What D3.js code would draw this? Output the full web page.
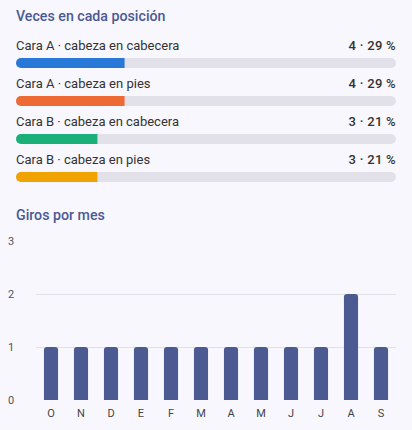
<!DOCTYPE html>
<html><head><meta charset="utf-8">
<script src="https://cdn.jsdelivr.net/npm/d3@7"></script>
<style>
html,body{margin:0;padding:0;background:#f8f7fd;}
svg{display:block;font-family:Roboto,"Noto Sans",sans-serif;}
</style></head>
<body><svg id="c" width="412" height="430"></svg>
<script>
const positions = ["Cara A · cabeza en cabecera","Cara A · cabeza en pies","Cara B · cabeza en cabecera","Cara B · cabeza en pies"];
const positionCounts = [4,4,3,3];
const positionPct = [29,29,21,21];
const positionColors = ["#2878d8","#ee6a35","#1bb07a","#f0a300"];
const months = ["O","N","D","E","F","M","A","M","J","J","A","S"];
const monthValues = [1,1,1,1,1,1,1,1,1,1,2,1];
const yTicks = [0,1,2,3];

const svg = d3.select("#c");
const titleColor = "#4b5a94";
svg.append("rect").attr("width",412).attr("height",430).attr("fill","#f8f7fd");

svg.append("text").attr("x",16).attr("y",21).attr("fill",titleColor)
  .attr("font-size",14.2).attr("font-weight",500).text("Veces en cada posición");

const total = d3.sum(positionCounts);
const xs = d3.scaleLinear().domain([0,total]).range([0,380]);
const rowY = d3.scaleLinear().domain([0,1]).range([58,96]);
const defs = svg.append("defs");
positions.forEach((p,i)=>{
  const y = rowY(i);
  const g = svg.append("g");
  g.append("text").attr("x",16).attr("y",y-8).attr("font-size",13).attr("fill","#333")
    .text(p);
  g.append("text").attr("x",396).attr("y",y-8).attr("font-size",13).attr("fill","#333")
    .attr("font-weight",500).attr("text-anchor","end").attr("letter-spacing",0.3)
    .text(positionCounts[i]+" · "+positionPct[i]+" %");
  const id="clip"+i;
  defs.append("clipPath").attr("id",id).append("rect")
    .attr("x",16).attr("y",y).attr("width",380).attr("height",10).attr("rx",5);
  g.append("rect").attr("x",16).attr("y",y).attr("width",380).attr("height",10).attr("rx",5)
    .attr("fill","#e2e1ea");
  g.append("rect").attr("clip-path","url(#"+id+")").attr("x",16).attr("y",y)
    .attr("width",xs(positionCounts[i])).attr("height",10).attr("fill",positionColors[i]);
});

svg.append("text").attr("x",16).attr("y",220).attr("fill",titleColor)
  .attr("font-size",14.2).attr("font-weight",500).text("Giros por mes");

const x = d3.scaleBand().domain(d3.range(months.length)).range([36,396]).paddingInner(0.53).paddingOuter(0.265);
const y = d3.scaleLinear().domain([0,3]).range([400,241]);

svg.append("g").selectAll("line").data([1,2]).join("line")
  .attr("x1",36).attr("x2",396).attr("y1",d=>y(d)+0.5).attr("y2",d=>y(d)+0.5)
  .attr("stroke","#e1e0ea").attr("stroke-width",1);

svg.append("g").selectAll("text").data(yTicks).join("text")
  .attr("x",8).attr("y",d=>y(d)).attr("dy","0.35em").attr("font-size",11).attr("fill","#555")
  .text(d=>d);

const bw = x.bandwidth();
svg.append("g").selectAll("path").data(monthValues).join("path")
  .attr("fill","#4b5a91")
  .attr("d",(d,i)=>{
    const x0=x(i), y0=y(d), y1=y(0), r=3;
    return `M${x0},${y1}V${y0+r}Q${x0},${y0} ${x0+r},${y0}H${x0+bw-r}Q${x0+bw},${y0} ${x0+bw},${y0+r}V${y1}Z`;
  });

svg.append("g").selectAll("text").data(months).join("text")
  .attr("x",(d,i)=>x(i)+bw/2).attr("y",417).attr("text-anchor","middle")
  .attr("font-size",11).attr("fill","#444").text(d=>d);
</script></body></html>
